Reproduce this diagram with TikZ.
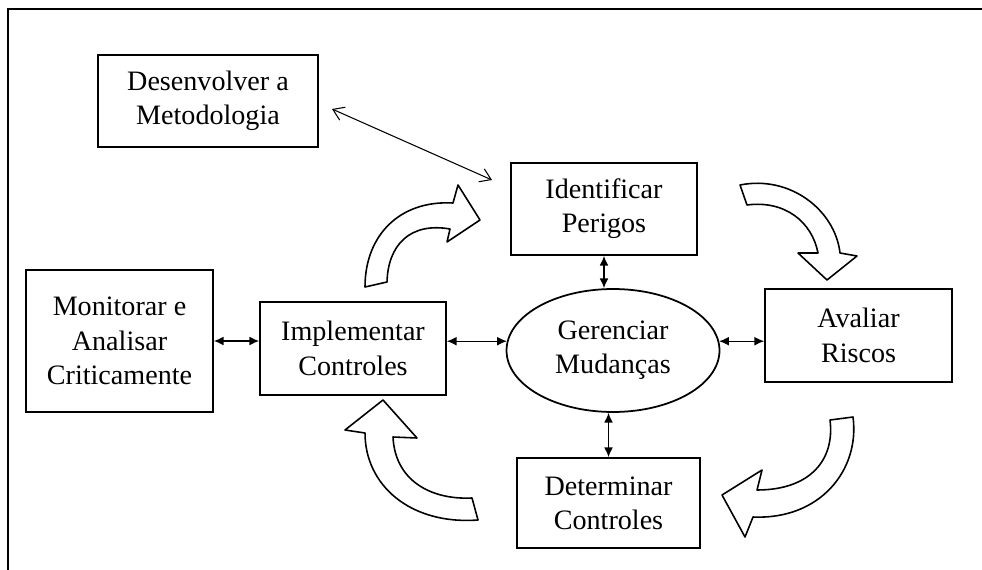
\documentclass[tikz,border=0pt]{standalone}
\usepackage{fontspec}
\setmainfont{Liberation Serif}
\usetikzlibrary{arrows.meta, shapes.geometric}

\begin{document}
\begin{tikzpicture}[x=0.02cm, y=-0.02cm,
	every node/.style={font=\fontsize{16}{19.5}\selectfont, align=center},
	caixa/.style={draw, line width=1pt, inner sep=0pt},
	seta/.style={{Latex[length=5.5pt,width=5pt]}-{Latex[length=5.5pt,width=5pt]}, line width=0.7pt},
	curva/.style={draw, line width=0.9pt, fill=white, line join=round}]
		\useasboundingbox (0,0) rectangle (982,570);
		\draw[line width=0.9pt] (8,570) -- (8,9) -- (982,9);
		
		\node[caixa, minimum width=4.4cm, minimum height=1.84cm] (metod) at (208,101) {Desenvolver a\\Metodologia};
		\node[caixa, minimum width=3.74cm, minimum height=2.84cm] (monit) at (119.5,341) {Monitorar e\\Analisar\\Criticamente};
		\node[caixa, minimum width=3.72cm, minimum height=1.86cm] (impl) at (353,348.5) {Implementar\\Controles};
		\node[caixa, minimum width=3.72cm, minimum height=1.84cm] (ident) at (604,209) {Identificar\\Perigos};
		\node[caixa, minimum width=3.66cm, minimum height=1.8cm] (determ) at (608.5,503) {Determinar\\Controles};
		\node[caixa, minimum width=3.74cm, minimum height=1.86cm] (aval) at (858.5,335.5) {Avaliar\\Riscos};
		\node[caixa, ellipse, minimum width=4.26cm, minimum height=2.46cm] (ger) at (613,350.5) {Gerenciar\\Mudanças};
		
		% ligacoes
		\draw[seta] (monit.east) -- (monit.east -| impl.west);
		\draw[seta] (ger.175) -- (ger.175 -| impl.east);
		\draw[seta] (ger.5) -- (ger.5 -| aval.west);
		\draw[seta] (ident.south) -- (ident.south |- ger.north);
		\draw[seta] (determ.north) -- (determ.north |- ger.south);
		
		\coordinate (d1) at (332,109);
		\coordinate (d2) at (492,180);
		\draw[{Straight Barb[length=6pt,width=8pt]}-{Straight Barb[length=6pt,width=8pt]}, line width=0.6pt] (d1) -- (d2);
		
		% setas curvas
		\path[curva] (365,287) .. controls (365,235) and (400,200) .. (453,203) -- (458,185) -- (480,220) -- (447,242) -- (450,229) .. controls (410,222) and (388,245) .. (387,282) -- cycle;
		\path[curva] (740,185) .. controls (790,175) and (835,210) .. (840,253) -- (857,256) -- (827,280) -- (798,253) -- (818,253) .. controls (812,222) and (785,200) .. (747,205) -- cycle;
		\path[curva] (830,420) -- (853,417) .. controls (860,470) and (820,520) .. (753,517) -- (745,537) -- (722,495) -- (762,470) -- (757,490) .. controls (810,490) and (835,460) .. (830,420) -- cycle;
		\path[curva] (383,400) -- (417,438) -- (393,437) .. controls (395,480) and (430,500) .. (472,498) -- (478,520) .. controls (410,525) and (365,485) .. (365,433) -- (345,430) -- cycle;
		
	\end{tikzpicture}
\end{document}
